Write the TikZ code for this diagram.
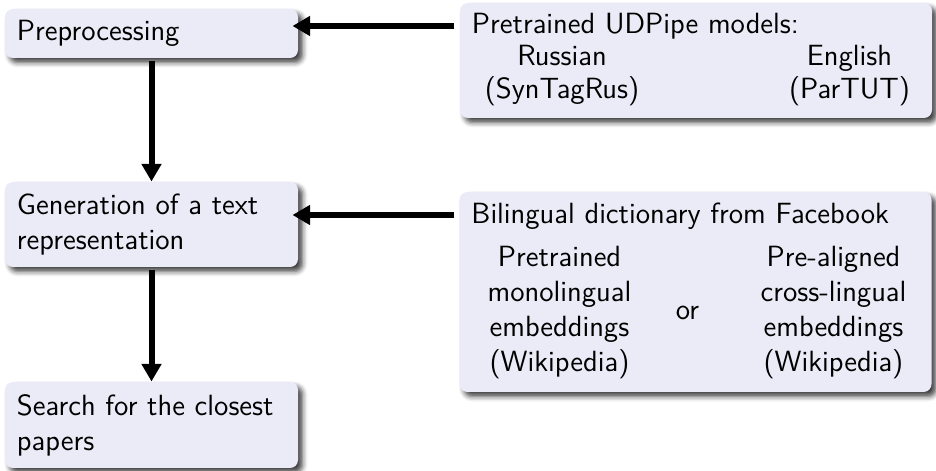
\documentclass[tikz,border=0pt]{standalone}
\usepackage{tikz}
\usetikzlibrary{positioning,arrows.meta,shadows.blur}
\definecolor{blockbody}{RGB}{235,235,247}
\tikzset{
    block/.style={
        fill=blockbody,
        rounded corners=3.2pt,
        blur shadow={shadow xshift=1.8pt, shadow yshift=-1.8pt,
            shadow blur radius=2pt, shadow opacity=75},
        font=\sffamily\fontsize{11.7pt}{14pt}\selectfont,
        inner xsep=4.8pt,
        inner ysep=3pt,
        align=left
    },
    stepbox/.style={block, text width=107.6pt},
    sourcebox/.style={block, text width=179.2pt},
    flow/.style={line width=2.4pt, -{Triangle[length=7pt,width=7.6pt]}}
}
\begin{document}
\begin{tikzpicture}[x=0.4pt,y=-0.4pt]
    \useasboundingbox (0,0) rectangle (936,471);
    % pipeline
    \node[stepbox, minimum height=19.6pt] (pre) at (151.5,33.5) {Preprocessing};
    \node[stepbox, minimum height=34pt] (gen) at (151.5,224.5) {Generation of a text\\representation};
    \node[stepbox, minimum height=34.4pt] (search) at (151.5,425) {Search for the closest\\papers};
    % resources
    \node[sourcebox, minimum height=46pt] (udpipe) at (696,60.5) {%
        \renewcommand{\arraystretch}{0.95}%
        Pretrained UDPipe models:\\[-1.2pt]
        \makebox[72pt]{\begin{tabular}[t]{@{}c@{}}Russian\\(SynTagRus)\end{tabular}}%
        \hspace{59.8pt}%
        \makebox[38.4pt]{\begin{tabular}[t]{@{}c@{}}English\\(ParTUT)\end{tabular}}};
    \node[sourcebox, minimum height=80pt] (dict) at (695.5,292) {%
        Bilingual dictionary from Facebook\\[4pt]
        \makebox[70.4pt]{\begin{tabular}{@{}c@{}}Pretrained\\monolingual\\embeddings\\(Wikipedia)\end{tabular}}%
        \makebox[32pt]{or}%
        \hspace{8pt}%
        \makebox[68.8pt]{\begin{tabular}{@{}c@{}}Pre-aligned\\cross-lingual\\embeddings\\(Wikipedia)\end{tabular}}};
    % connectors
    \coordinate (pre-in) at ([yshift=3pt]pre.east);
    \coordinate (gen-in) at ([yshift=3.8pt]gen.east);
    \draw[flow, shorten <=2pt, shorten >=-2.4pt] (udpipe.west |- pre-in) -- (pre-in);
    \draw[flow, shorten <=2pt, shorten >=-2.4pt] (dict.west |- gen-in) -- (gen-in);
    \draw[flow, shorten <=1pt] (pre) -- (gen);
    \draw[flow, shorten <=1pt] (gen) -- (search);
\end{tikzpicture}
\end{document}
